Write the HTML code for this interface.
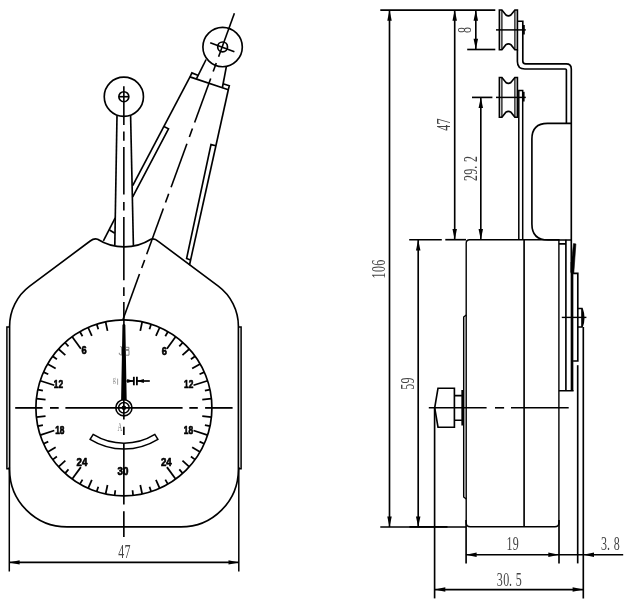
<!DOCTYPE html>
<html>
<head>
<meta charset="utf-8">
<title>Tension meter drawing</title>
<style>
html, body { margin: 0; padding: 0; background: #fff; }
body { width: 629px; height: 603px; overflow: hidden; font-family: "Liberation Sans", sans-serif; }
svg { display: block; will-change: transform; transform: translateZ(0); }
</style>
</head>
<body>
<svg width="629" height="603" viewBox="0 0 629 603" stroke="#000" fill="none" stroke-linecap="butt" stroke-linejoin="miter">
<path d="M 9.6 469.4 L 9.6 326.2 A 50.0 50.0 0 0 1 29.72 286.11 L 90.2 241.03 Q 94.0 238.1 97.6 239.25 A 50 50 0 0 0 150.9 239.25 Q 154.5 238.1 158.3 241.40 L 218.28 286.11 A 50.0 50.0 0 0 1 238.4 326.2 L 238.4 469.4 A 57.5 57.5 0 0 1 180.9 526.9 L 67.1 526.9 A 57.5 57.5 0 0 1 9.6 469.4 Z" stroke-width="1.65" fill="none" />
<path d="M 9.6 327.0 L 6.9 327.0 L 6.9 468.8 L 9.6 468.8" stroke-width="1.5" fill="none" />
<path d="M 238.4 327.0 L 241.1 327.0 L 241.1 468.8 L 238.4 468.8" stroke-width="1.5" fill="none" />
<circle cx="123.90" cy="407.90" r="88.00" stroke-width="1.7" fill="none"/>
<line x1="105.60" y1="321.82" x2="107.52" y2="330.82" stroke-width="1.75" />
<line x1="142.20" y1="321.82" x2="140.28" y2="330.82" stroke-width="1.75" />
<line x1="96.71" y1="324.21" x2="98.31" y2="329.15" stroke-width="1.75" />
<line x1="151.09" y1="324.21" x2="149.49" y2="329.15" stroke-width="1.75" />
<line x1="88.11" y1="327.51" x2="91.85" y2="335.91" stroke-width="1.75" />
<line x1="159.69" y1="327.51" x2="155.95" y2="335.91" stroke-width="1.75" />
<line x1="79.90" y1="331.69" x2="82.50" y2="336.19" stroke-width="1.75" />
<line x1="167.90" y1="331.69" x2="165.30" y2="336.19" stroke-width="1.75" />
<line x1="72.17" y1="336.71" x2="80.87" y2="348.68" stroke-width="1.75" />
<line x1="175.63" y1="336.71" x2="166.93" y2="348.68" stroke-width="1.75" />
<line x1="65.02" y1="342.50" x2="68.50" y2="346.37" stroke-width="1.75" />
<line x1="182.78" y1="342.50" x2="179.30" y2="346.37" stroke-width="1.75" />
<line x1="58.50" y1="349.02" x2="65.34" y2="355.17" stroke-width="1.75" />
<line x1="189.30" y1="349.02" x2="182.46" y2="355.17" stroke-width="1.75" />
<line x1="52.71" y1="356.17" x2="56.91" y2="359.23" stroke-width="1.75" />
<line x1="195.09" y1="356.17" x2="190.89" y2="359.23" stroke-width="1.75" />
<line x1="47.69" y1="363.90" x2="55.66" y2="368.50" stroke-width="1.75" />
<line x1="200.11" y1="363.90" x2="192.14" y2="368.50" stroke-width="1.75" />
<line x1="43.51" y1="372.11" x2="48.26" y2="374.22" stroke-width="1.75" />
<line x1="204.29" y1="372.11" x2="199.54" y2="374.22" stroke-width="1.75" />
<line x1="40.21" y1="380.71" x2="54.28" y2="385.28" stroke-width="1.75" />
<line x1="207.59" y1="380.71" x2="193.52" y2="385.28" stroke-width="1.75" />
<line x1="37.82" y1="389.60" x2="42.91" y2="390.68" stroke-width="1.75" />
<line x1="209.98" y1="389.60" x2="204.89" y2="390.68" stroke-width="1.75" />
<line x1="36.38" y1="398.70" x2="45.53" y2="399.66" stroke-width="1.75" />
<line x1="211.42" y1="398.70" x2="202.27" y2="399.66" stroke-width="1.75" />
<line x1="36.38" y1="417.10" x2="45.53" y2="416.14" stroke-width="1.75" />
<line x1="211.42" y1="417.10" x2="202.27" y2="416.14" stroke-width="1.75" />
<line x1="37.82" y1="426.20" x2="42.91" y2="425.12" stroke-width="1.75" />
<line x1="209.98" y1="426.20" x2="204.89" y2="425.12" stroke-width="1.75" />
<line x1="40.21" y1="435.09" x2="54.28" y2="430.52" stroke-width="1.75" />
<line x1="207.59" y1="435.09" x2="193.52" y2="430.52" stroke-width="1.75" />
<line x1="43.51" y1="443.69" x2="48.26" y2="441.58" stroke-width="1.75" />
<line x1="204.29" y1="443.69" x2="199.54" y2="441.58" stroke-width="1.75" />
<line x1="47.69" y1="451.90" x2="55.66" y2="447.30" stroke-width="1.75" />
<line x1="200.11" y1="451.90" x2="192.14" y2="447.30" stroke-width="1.75" />
<line x1="52.71" y1="459.63" x2="56.91" y2="456.57" stroke-width="1.75" />
<line x1="195.09" y1="459.63" x2="190.89" y2="456.57" stroke-width="1.75" />
<line x1="58.50" y1="466.78" x2="65.34" y2="460.63" stroke-width="1.75" />
<line x1="189.30" y1="466.78" x2="182.46" y2="460.63" stroke-width="1.75" />
<line x1="65.02" y1="473.30" x2="68.50" y2="469.43" stroke-width="1.75" />
<line x1="182.78" y1="473.30" x2="179.30" y2="469.43" stroke-width="1.75" />
<line x1="72.17" y1="479.09" x2="80.87" y2="467.12" stroke-width="1.75" />
<line x1="175.63" y1="479.09" x2="166.93" y2="467.12" stroke-width="1.75" />
<line x1="79.90" y1="484.11" x2="82.50" y2="479.61" stroke-width="1.75" />
<line x1="167.90" y1="484.11" x2="165.30" y2="479.61" stroke-width="1.75" />
<line x1="88.11" y1="488.29" x2="91.85" y2="479.89" stroke-width="1.75" />
<line x1="159.69" y1="488.29" x2="155.95" y2="479.89" stroke-width="1.75" />
<line x1="96.71" y1="491.59" x2="98.31" y2="486.65" stroke-width="1.75" />
<line x1="151.09" y1="491.59" x2="149.49" y2="486.65" stroke-width="1.75" />
<line x1="105.60" y1="493.98" x2="107.52" y2="484.98" stroke-width="1.75" />
<line x1="142.20" y1="493.98" x2="140.28" y2="484.98" stroke-width="1.75" />
<line x1="114.70" y1="495.42" x2="115.25" y2="490.25" stroke-width="1.75" />
<line x1="133.10" y1="495.42" x2="132.55" y2="490.25" stroke-width="1.75" />
<g transform="translate(84.15,354.30) scale(0.83,1)"><text x="0" y="0" font-family="'Liberation Sans', sans-serif" font-size="11.1" font-weight="bold" text-anchor="middle" fill="#000" stroke="#000" stroke-width="0.7" stroke-linejoin="round">6</text></g>
<g transform="translate(164.30,354.60) scale(0.83,1)"><text x="0" y="0" font-family="'Liberation Sans', sans-serif" font-size="11.1" font-weight="bold" text-anchor="middle" fill="#000" stroke="#000" stroke-width="0.7" stroke-linejoin="round">6</text></g>
<g transform="translate(58.50,388.10) scale(0.75,1)"><text x="0" y="0" font-family="'Liberation Sans', sans-serif" font-size="11.1" font-weight="bold" text-anchor="middle" fill="#000" stroke="#000" stroke-width="0.7" stroke-linejoin="round">12</text></g>
<g transform="translate(188.70,388.10) scale(0.75,1)"><text x="0" y="0" font-family="'Liberation Sans', sans-serif" font-size="11.1" font-weight="bold" text-anchor="middle" fill="#000" stroke="#000" stroke-width="0.7" stroke-linejoin="round">12</text></g>
<g transform="translate(59.80,433.50) scale(0.75,1)"><text x="0" y="0" font-family="'Liberation Sans', sans-serif" font-size="11.1" font-weight="bold" text-anchor="middle" fill="#000" stroke="#000" stroke-width="0.7" stroke-linejoin="round">18</text></g>
<g transform="translate(188.50,433.80) scale(0.75,1)"><text x="0" y="0" font-family="'Liberation Sans', sans-serif" font-size="11.1" font-weight="bold" text-anchor="middle" fill="#000" stroke="#000" stroke-width="0.7" stroke-linejoin="round">18</text></g>
<g transform="translate(81.90,465.80) scale(0.87,1)"><text x="0" y="0" font-family="'Liberation Sans', sans-serif" font-size="11.1" font-weight="bold" text-anchor="middle" fill="#000" stroke="#000" stroke-width="0.7" stroke-linejoin="round">24</text></g>
<g transform="translate(166.25,465.80) scale(0.87,1)"><text x="0" y="0" font-family="'Liberation Sans', sans-serif" font-size="11.1" font-weight="bold" text-anchor="middle" fill="#000" stroke="#000" stroke-width="0.7" stroke-linejoin="round">24</text></g>
<g transform="translate(122.90,474.80) scale(0.88,1)"><text x="0" y="0" font-family="'Liberation Sans', sans-serif" font-size="11.1" font-weight="bold" text-anchor="middle" fill="#000" stroke="#000" stroke-width="0.7" stroke-linejoin="round">30</text></g>
<path d="M 93.15 434.44 A 58.7 58.7 0 0 0 154.85 434.44 L 157.89 439.38 A 64.5 64.5 0 0 1 90.11 439.38 Z" stroke-width="1.5" fill="none" />
<circle cx="123.90" cy="407.80" r="8.10" stroke-width="1.6" fill="none"/>
<circle cx="123.90" cy="407.80" r="5.30" stroke-width="1.5" fill="none"/>
<circle cx="123.90" cy="407.80" r="2.30" stroke-width="0" fill="#000"/>
<polygon points="123.10,320.0 124.70,320.0 124.70,324.0 125.35,325.0 126.70,400 121.10,400 122.45,325.0 123.10,324.0" fill="#000" stroke="none"/>
<line x1="15.20" y1="407.90" x2="42.60" y2="407.90" stroke-width="1.8" />
<line x1="50.00" y1="407.90" x2="58.70" y2="407.90" stroke-width="1.8" />
<line x1="65.40" y1="407.90" x2="182.60" y2="407.90" stroke-width="1.8" />
<line x1="189.30" y1="407.90" x2="197.80" y2="407.90" stroke-width="1.8" />
<line x1="205.10" y1="407.90" x2="232.60" y2="407.90" stroke-width="1.8" />
<line x1="123.85" y1="86.30" x2="123.85" y2="124.90" stroke-width="1.6" />
<line x1="123.85" y1="131.60" x2="123.85" y2="140.80" stroke-width="1.6" />
<line x1="123.85" y1="147.10" x2="123.85" y2="194.50" stroke-width="1.6" />
<line x1="123.85" y1="201.90" x2="123.85" y2="210.50" stroke-width="1.6" />
<line x1="123.85" y1="217.00" x2="123.85" y2="280.30" stroke-width="1.6" />
<line x1="123.85" y1="287.20" x2="123.85" y2="296.00" stroke-width="1.6" />
<line x1="123.85" y1="302.00" x2="123.85" y2="320.00" stroke-width="1.6" />
<line x1="123.85" y1="399.00" x2="123.85" y2="419.60" stroke-width="1.65" />
<line x1="123.85" y1="426.80" x2="123.85" y2="435.00" stroke-width="1.65" />
<line x1="123.85" y1="443.20" x2="123.85" y2="504.50" stroke-width="1.65" />
<line x1="123.85" y1="511.20" x2="123.85" y2="537.00" stroke-width="1.65" />
<path d="M 125.9 347.3 L 128.9 347.3 L 128.9 349.5 L 125.9 349.5 M 125.9 350.4 L 129.0 350.4 L 129.0 355.2 L 125.9 355.2" stroke-width="0.8" fill="none" stroke="#6a6a6a"/>
<path d="M 120.3 346.3 L 121.6 347.8 M 121.5 346.5 L 121.5 355.3 M 121.5 355.3 L 119.3 354.2 L 119.3 352.8" stroke-width="0.8" fill="none" stroke="#6a6a6a"/>
<g transform="translate(114.40,382.40) rotate(0) scale(0.8,1)"><text x="0" y="0" font-family="'Liberation Serif', serif" font-size="8.0" font-weight="normal" text-anchor="middle" fill="#8a8a8a" stroke="none">g</text></g>
<line x1="117.60" y1="378.60" x2="117.60" y2="384.80" stroke-width="0.8" stroke="#8a8a8a"/>
<g transform="translate(119.80,431.40) rotate(0) scale(0.5,1)"><text x="0" y="0" font-family="'Liberation Serif', serif" font-size="13.0" font-weight="normal" text-anchor="middle" fill="#777" stroke="none">A</text></g>
<line x1="133.85" y1="376.80" x2="133.85" y2="385.30" stroke-width="1.8" />
<line x1="136.90" y1="376.80" x2="136.90" y2="385.30" stroke-width="1.8" />
<line x1="126.50" y1="381.00" x2="133.80" y2="381.00" stroke-width="1.7" />
<line x1="136.90" y1="381.00" x2="149.80" y2="381.00" stroke-width="1.7" />
<polygon points="133.60,381.00 127.20,383.10 127.20,378.90" fill="#000" stroke="none"/>
<polygon points="137.10,381.00 143.90,378.90 143.90,383.10" fill="#000" stroke="none"/>
<circle cx="123.85" cy="96.75" r="19.60" stroke-width="1.65" fill="none"/>
<circle cx="123.85" cy="96.70" r="5.00" stroke-width="1.65" fill="none"/>
<line x1="118.85" y1="96.70" x2="128.85" y2="96.70" stroke-width="1.65" />
<line x1="117.00" y1="115.40" x2="114.80" y2="244.90" stroke-width="1.65" />
<line x1="130.60" y1="115.40" x2="133.40" y2="245.70" stroke-width="1.65" />
<circle cx="222.60" cy="47.00" r="19.70" stroke-width="1.65" fill="none"/>
<circle cx="222.60" cy="46.90" r="4.90" stroke-width="1.7" fill="none"/>
<line x1="234.40" y1="13.30" x2="218.60" y2="56.71" stroke-width="1.6" />
<line x1="216.27" y1="63.10" x2="213.19" y2="71.56" stroke-width="1.6" />
<line x1="210.70" y1="78.42" x2="194.62" y2="122.59" stroke-width="1.6" />
<line x1="192.47" y1="128.51" x2="189.36" y2="137.06" stroke-width="1.6" />
<line x1="186.93" y1="143.73" x2="171.09" y2="187.24" stroke-width="1.6" />
<line x1="168.70" y1="193.81" x2="165.52" y2="202.55" stroke-width="1.6" />
<line x1="163.36" y1="208.47" x2="146.67" y2="254.33" stroke-width="1.6" />
<line x1="144.62" y1="259.97" x2="141.71" y2="267.96" stroke-width="1.6" />
<line x1="139.49" y1="274.06" x2="123.07" y2="319.17" stroke-width="1.6" />
<line x1="210.20" y1="42.70" x2="234.40" y2="51.70" stroke-width="1.7" />
<line x1="206.10" y1="59.50" x2="196.40" y2="78.80" stroke-width="1.65" />
<line x1="226.30" y1="66.90" x2="222.30" y2="88.00" stroke-width="1.65" />
<path d="M 198.4 75.4 L 191.9 72.9 L 190.0 76.9 L 228.3 89.8 L 229.3 85.8 L 223.0 83.7" stroke-width="1.65" fill="none" />
<line x1="190.00" y1="76.90" x2="132.70" y2="185.63" stroke-width="1.65" />
<line x1="115.20" y1="217.80" x2="103.40" y2="240.90" stroke-width="1.65" />
<path d="M 163.9 126.5 L 168.5 128.8 L 132.7 196.8" stroke-width="1.65" fill="none" />
<path d="M 109.5 230.0 L 114.8 233.3" stroke-width="1.65" fill="none" />
<line x1="228.30" y1="89.80" x2="189.43" y2="265.30" stroke-width="1.65" />
<path d="M 215.90 145.8 L 211.0 144.6 L 186.6 258.5 L 190.58 260.1" stroke-width="1.65" fill="none" />
<line x1="9.30" y1="467.00" x2="9.30" y2="571.50" stroke-width="1.5" />
<line x1="238.80" y1="467.00" x2="238.80" y2="571.50" stroke-width="1.5" />
<line x1="9.30" y1="562.40" x2="238.80" y2="562.40" stroke-width="1.65" />
<polygon points="9.00,562.40 19.60,560.30 19.60,564.50" fill="#000" stroke="none"/>
<polygon points="239.10,562.40 228.50,564.50 228.50,560.30" fill="#000" stroke="none"/>
<g transform="translate(124.30,558.00) rotate(0)" font-family="'Liberation Serif', serif" font-size="18.6" fill="#444" stroke="none"><text transform="translate(-3.15,0) scale(0.645,1)" x="0" y="0" text-anchor="middle">4</text><text transform="translate(3.15,0) scale(0.645,1)" x="0" y="0" text-anchor="middle">7</text></g>
<path d="M 466.2 243.3 Q 466.2 239.8 469.7 239.8 L 558.9 239.8 L 558.9 522.8 Q 558.9 526.8 554.9 526.8 L 470.2 526.8 Q 466.2 526.8 466.2 522.8 Z" stroke-width="1.4" fill="none" />
<line x1="524.10" y1="239.80" x2="524.10" y2="526.80" stroke-width="1.65" />
<path d="M 466.2 315.0 L 463.7 317.0 L 463.7 497.0 L 466.2 499.0" stroke-width="1.45" fill="none" />
<path d="M 438.0 388.2 L 454.4 388.2 L 454.4 427.2 L 438.0 427.2 L 434.7 407.8 Z" stroke-width="1.65" fill="none" />
<path d="M 454.4 395.6 L 461.9 395.6 M 454.4 420.2 L 461.9 420.2" stroke-width="1.65" fill="none" />
<line x1="462.20" y1="390.00" x2="462.20" y2="425.50" stroke-width="1.7" />
<line x1="428.80" y1="407.80" x2="486.60" y2="407.80" stroke-width="1.6" />
<line x1="495.00" y1="407.80" x2="504.10" y2="407.80" stroke-width="1.6" />
<line x1="511.00" y1="407.80" x2="568.70" y2="407.80" stroke-width="1.6" />
<path d="M 499.4 10.0 L 501.9 10.0 L 505.9 15.0 Q 508.4 16.8 510.9 15.0 L 514.9 10.0 L 517.4 10.0 L 517.4 49.7 L 514.9 49.7 L 510.9 44.7 Q 508.4 42.900000000000006 505.9 44.7 L 501.9 49.7 L 499.4 49.7 Z" stroke-width="1.65" fill="none" />
<line x1="501.90" y1="10.00" x2="501.90" y2="49.70" stroke-width="1.2" />
<line x1="514.90" y1="10.00" x2="514.90" y2="49.70" stroke-width="1.2" />
<path d="M 499.4 77.5 L 501.9 77.5 L 505.9 82.5 Q 508.4 84.3 510.9 82.5 L 514.9 77.5 L 517.4 77.5 L 517.4 117.2 L 514.9 117.2 L 510.9 112.2 Q 508.4 110.4 505.9 112.2 L 501.9 117.2 L 499.4 117.2 Z" stroke-width="1.65" fill="none" />
<line x1="501.90" y1="77.50" x2="501.90" y2="117.20" stroke-width="1.2" />
<line x1="514.90" y1="77.50" x2="514.90" y2="117.20" stroke-width="1.2" />
<line x1="496.00" y1="29.90" x2="525.80" y2="29.90" stroke-width="1.5" />
<line x1="496.00" y1="97.40" x2="525.80" y2="97.40" stroke-width="1.5" />
<line x1="523.90" y1="24.90" x2="523.90" y2="34.50" stroke-width="1.8" />
<line x1="523.70" y1="91.80" x2="523.70" y2="101.50" stroke-width="1.8" />
<path d="M 517.4 49.7 L 517.4 61.5 Q 517.4 69.0 524.9 69.0 L 565.4 69.0 Q 566.4 69.0 566.4 70.0 L 566.4 123.3 M 517.4 21.2 L 522.8 21.2 L 522.8 61.0 Q 522.8 63.9 525.7 63.9 L 566.2 63.9 Q 571.3 63.9 571.3 69.0 L 571.3 272.5" stroke-width="1.65" fill="none" />
<path d="M 518.8 239.8 L 518.8 90.4 L 522.7 90.4 L 522.7 239.8" stroke-width="1.5" fill="none" />
<path d="M 571.3 123.3 L 547.5 123.3 Q 531.9 123.3 531.9 139.0 L 531.9 224.0 Q 531.9 240.0 548.0 240.0 L 571.3 240.0" stroke-width="1.65" fill="none" />
<path d="M 558.9 243.9 L 566.0 243.9 M 565.9 239.8 L 565.9 390.7 M 558.9 390.7 L 573.6 390.7" stroke-width="1.65" fill="none" />
<line x1="572.00" y1="262.00" x2="572.00" y2="390.70" stroke-width="2.7" />
<path d="M 573.5 243.6 L 575.9 243.9 L 573.8 273.2 L 571.2 273.2 L 571.9 258.0 Z" stroke-width="0.6" fill="#000" />
<path d="M 573.1 273.3 L 577.8 273.3 L 577.8 361.0 L 573.1 361.0" stroke-width="1.65" fill="none" />
<path d="M 577.8 308.5 L 582.0 308.5 Q 585.4 317.8 582.0 327.0 L 577.8 327.0 M 582.0 308.5 L 582.0 327.0" stroke-width="1.65" fill="none" />
<line x1="561.80" y1="317.40" x2="586.40" y2="317.40" stroke-width="1.4" />
<line x1="380.30" y1="10.10" x2="495.30" y2="10.10" stroke-width="1.65" />
<line x1="467.20" y1="49.50" x2="495.30" y2="49.50" stroke-width="1.65" />
<line x1="472.00" y1="97.40" x2="492.40" y2="97.40" stroke-width="1.65" />
<line x1="409.20" y1="239.70" x2="441.80" y2="239.70" stroke-width="1.65" />
<line x1="445.30" y1="239.70" x2="466.00" y2="239.70" stroke-width="1.65" />
<line x1="380.30" y1="526.90" x2="466.00" y2="526.90" stroke-width="1.5" />
<line x1="409.40" y1="526.90" x2="447.50" y2="526.90" stroke-width="1.9" />
<line x1="389.50" y1="10.10" x2="389.50" y2="527.10" stroke-width="1.65" />
<polygon points="389.50,10.10 391.75,20.80 387.25,20.80" fill="#000" stroke="none"/>
<polygon points="389.50,527.10 387.25,516.40 391.75,516.40" fill="#000" stroke="none"/>
<line x1="418.20" y1="239.70" x2="418.20" y2="527.10" stroke-width="1.65" />
<polygon points="418.20,239.70 420.45,250.40 415.95,250.40" fill="#000" stroke="none"/>
<polygon points="418.20,527.10 415.95,516.40 420.45,516.40" fill="#000" stroke="none"/>
<line x1="454.70" y1="10.10" x2="454.70" y2="239.70" stroke-width="1.65" />
<polygon points="454.70,10.10 456.95,20.80 452.45,20.80" fill="#000" stroke="none"/>
<polygon points="454.70,239.70 452.45,229.00 456.95,229.00" fill="#000" stroke="none"/>
<line x1="480.80" y1="97.40" x2="480.80" y2="239.70" stroke-width="1.65" />
<polygon points="480.80,97.40 483.05,108.10 478.55,108.10" fill="#000" stroke="none"/>
<polygon points="480.80,239.70 478.55,229.00 483.05,229.00" fill="#000" stroke="none"/>
<line x1="475.80" y1="10.10" x2="475.80" y2="49.50" stroke-width="1.65" />
<polygon points="475.80,10.10 478.05,20.80 473.55,20.80" fill="#000" stroke="none"/>
<polygon points="475.80,49.50 473.55,38.80 478.05,38.80" fill="#000" stroke="none"/>
<line x1="434.60" y1="407.80" x2="434.60" y2="598.40" stroke-width="1.65" />
<line x1="466.10" y1="520.00" x2="466.10" y2="563.40" stroke-width="1.65" />
<line x1="559.00" y1="520.00" x2="559.00" y2="563.40" stroke-width="1.65" />
<line x1="577.70" y1="365.20" x2="577.70" y2="563.40" stroke-width="1.65" />
<line x1="583.30" y1="327.00" x2="583.30" y2="598.40" stroke-width="1.65" />
<line x1="465.90" y1="554.70" x2="623.20" y2="554.70" stroke-width="1.65" />
<polygon points="465.90,554.70 476.60,552.45 476.60,556.95" fill="#000" stroke="none"/>
<polygon points="559.00,554.70 548.30,556.95 548.30,552.45" fill="#000" stroke="none"/>
<polygon points="583.30,554.70 594.00,552.45 594.00,556.95" fill="#000" stroke="none"/>
<line x1="434.60" y1="589.60" x2="583.30" y2="589.60" stroke-width="1.65" />
<polygon points="434.60,589.60 445.30,587.35 445.30,591.85" fill="#000" stroke="none"/>
<polygon points="583.30,589.60 572.60,591.85 572.60,587.35" fill="#000" stroke="none"/>
<g transform="translate(512.70,550.30) rotate(0)" font-family="'Liberation Serif', serif" font-size="18.6" fill="#444" stroke="none"><text transform="translate(-3.15,0) scale(0.645,1)" x="0" y="0" text-anchor="middle">1</text><text transform="translate(3.15,0) scale(0.645,1)" x="0" y="0" text-anchor="middle">9</text></g>
<g transform="translate(610.40,550.30) rotate(0)" font-family="'Liberation Serif', serif" font-size="18.6" fill="#444" stroke="none"><text transform="translate(-6.30,0) scale(0.645,1)" x="0" y="0" text-anchor="middle">3</text><text transform="translate(-1.85,0) scale(0.645,1)" x="0" y="0" text-anchor="middle">.</text><text transform="translate(6.30,0) scale(0.645,1)" x="0" y="0" text-anchor="middle">8</text></g>
<g transform="translate(509.30,585.60) rotate(0)" font-family="'Liberation Serif', serif" font-size="18.6" fill="#444" stroke="none"><text transform="translate(-9.45,0) scale(0.645,1)" x="0" y="0" text-anchor="middle">3</text><text transform="translate(-3.15,0) scale(0.645,1)" x="0" y="0" text-anchor="middle">0</text><text transform="translate(1.30,0) scale(0.645,1)" x="0" y="0" text-anchor="middle">.</text><text transform="translate(9.45,0) scale(0.645,1)" x="0" y="0" text-anchor="middle">5</text></g>
<g transform="translate(385.10,269.10) rotate(-90)" font-family="'Liberation Serif', serif" font-size="18.6" fill="#444" stroke="none"><text transform="translate(-6.30,0) scale(0.645,1)" x="0" y="0" text-anchor="middle">1</text><text transform="translate(0.00,0) scale(0.645,1)" x="0" y="0" text-anchor="middle">0</text><text transform="translate(6.30,0) scale(0.645,1)" x="0" y="0" text-anchor="middle">6</text></g>
<g transform="translate(413.60,383.70) rotate(-90)" font-family="'Liberation Serif', serif" font-size="18.6" fill="#444" stroke="none"><text transform="translate(-3.15,0) scale(0.645,1)" x="0" y="0" text-anchor="middle">5</text><text transform="translate(3.15,0) scale(0.645,1)" x="0" y="0" text-anchor="middle">9</text></g>
<g transform="translate(450.30,124.60) rotate(-90)" font-family="'Liberation Serif', serif" font-size="18.6" fill="#444" stroke="none"><text transform="translate(-3.15,0) scale(0.645,1)" x="0" y="0" text-anchor="middle">4</text><text transform="translate(3.15,0) scale(0.645,1)" x="0" y="0" text-anchor="middle">7</text></g>
<g transform="translate(476.80,168.50) rotate(-90)" font-family="'Liberation Serif', serif" font-size="18.6" fill="#444" stroke="none"><text transform="translate(-9.45,0) scale(0.645,1)" x="0" y="0" text-anchor="middle">2</text><text transform="translate(-3.15,0) scale(0.645,1)" x="0" y="0" text-anchor="middle">9</text><text transform="translate(1.30,0) scale(0.645,1)" x="0" y="0" text-anchor="middle">.</text><text transform="translate(9.45,0) scale(0.645,1)" x="0" y="0" text-anchor="middle">2</text></g>
<g transform="translate(471.40,29.90) rotate(-90)" font-family="'Liberation Serif', serif" font-size="18.6" fill="#444" stroke="none"><text transform="translate(0.00,0) scale(0.645,1)" x="0" y="0" text-anchor="middle">8</text></g>
</svg>
</body>
</html>
